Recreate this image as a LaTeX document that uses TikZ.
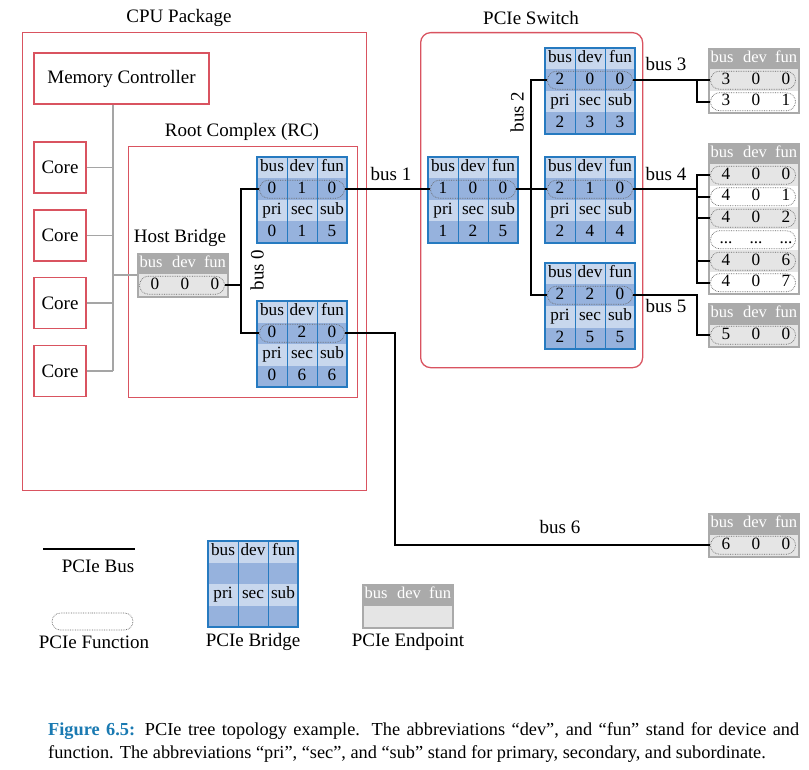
\documentclass[tikz,border=0pt]{standalone}
\usepackage{fontspec}
\setmainfont{Liberation Serif}
\usetikzlibrary{shapes.misc}
\definecolor{pred}{RGB}{217,83,96}
\definecolor{bblue}{RGB}{38,122,192}
\definecolor{bhead}{RGB}{200,215,237}
\definecolor{bdata}{RGB}{150,178,221}
\definecolor{egray}{RGB}{170,170,170}
\definecolor{erow}{RGB}{229,229,229}
\definecolor{lgray}{RGB}{165,165,165}
\definecolor{capblue}{RGB}{26,122,178}
\tikzset{
 redbox/.style={draw=pred, line width=1.3pt, inner sep=0pt},
 lbl/.style={font=\fontsize{19}{21}\selectfont, inner sep=0pt},
 btxt/.style={font=\fontsize{17.2}{20}\selectfont, inner sep=0pt, text height=11.5pt, text depth=3.7pt},
 etxt/.style={font=\fontsize{16.5}{20}\selectfont, inner sep=0pt, text height=11pt, text depth=3.5pt, text=white},
 fnc/.style={draw=black!60, densely dotted, rounded rectangle, inner sep=0pt, line width=0.7pt},
 bus/.style={draw=black, line width=1.8pt},
 gline/.style={draw=lgray, line width=1.6pt},
 epbord/.style={draw=egray, line width=1.6pt, inner sep=0pt, anchor=north west, minimum width=90pt},
}
\newcommand\pbridgebox[3]{%
 \fill[bhead] ({#2},{#3}) rectangle ++(90,21.5);
 \fill[bdata] ({#2},{#3+21.5}) rectangle ++(90,21.5);
 \fill[bhead] ({#2},{#3+43}) rectangle ++(90,21.5);
 \fill[bdata] ({#2},{#3+64.5}) rectangle ++(90,21.5);
 \draw[bblue, line width=1pt] ({#2+30},{#3}) -- ++(0,86) ({#2+60},{#3}) -- ++(0,86);
 \draw[bblue, line width=1.5pt] ({#2},{#3}) rectangle ++(90,86);
 \node[btxt] (#1h1) at ({#2+15},{#3+10.75}) {bus};
 \node[btxt] (#1h2) at ({#2+45},{#3+10.75}) {dev};
 \node[btxt] (#1h3) at ({#2+75.5},{#3+10.75}) {fun};
 \node[btxt] (#1h4) at ({#2+15},{#3+53.75}) {pri};
 \node[btxt] (#1h5) at ({#2+45},{#3+53.75}) {sec};
 \node[btxt] (#1h6) at ({#2+75},{#3+53.75}) {sub};
}
\newcommand\pbridge[9]{%
 \pbridgebox{#1}{#2}{#3}
 \node[fnc, minimum width=85pt, minimum height=18pt] (#1) at ({#2+45},{#3+32.25}) {};
 \node[btxt] (#1v1) at ({#2+15},{#3+32.25}) {#4};
 \node[btxt] (#1v2) at ({#2+45},{#3+32.25}) {#5};
 \node[btxt] (#1v3) at ({#2+75},{#3+32.25}) {#6};
 \node[btxt] (#1v4) at ({#2+15},{#3+75.25}) {#7};
 \node[btxt] (#1v5) at ({#2+45},{#3+75.25}) {#8};
 \node[btxt] (#1v6) at ({#2+75},{#3+75.25}) {#9};
}
\newcommand\ephead[3]{%
 \fill[egray] ({#2},{#3}) rectangle ++(90,21.5);
 \node[etxt] (#1a) at ({#2+14},{#3+10.75}) {bus};
 \node[etxt] (#1b) at ({#2+47},{#3+10.75}) {dev};
 \node[etxt] (#1c) at ({#2+78},{#3+10.75}) {fun};
}
\newcommand\eprow[7]{%
 \fill[#4] ({#2},{#3}) rectangle ++(90,21.5);
 \node[fnc, minimum width=85pt, minimum height=18pt] (#1) at ({#2+45},{#3+10.75}) {};
 \node[btxt] (#1a) at ({#2+18},{#3+10.75}) {#5};
 \node[btxt] (#1b) at ({#2+48},{#3+10.75}) {#6};
 \node[btxt] (#1c) at ({#2+78},{#3+10.75}) {#7};
}
\begin{document}
\begin{tikzpicture}[x=1pt,y=-1pt]
\fill[white] (0,0) rectangle (809,770);
\useasboundingbox (0,0) rectangle (809,770);

% containers
\node[redbox, minimum width=344pt, minimum height=458pt, anchor=north west] (cpu) at (22,32) {};
\node[lbl] (cput) at (179,18) {CPU Package};
\node[redbox, minimum width=229pt, minimum height=251pt, anchor=north west] (rc) at (128,146) {};
\node[lbl] (rct) at (242,132) {Root Complex (RC)};
\node[redbox, rounded corners=10pt, minimum width=222pt, minimum height=335pt, anchor=north west] (sw) at (420,32) {};
\node[lbl] (swt) at (531,18) {PCIe Switch};

% memory controller and cores
\node[redbox, lbl, minimum width=175pt, minimum height=51pt] (mc) at (121.5,78.5) {Memory Controller};
\node[redbox, lbl, minimum width=52pt, minimum height=51pt] (c1) at (60,167.5) {Core};
\node[redbox, lbl, minimum width=52pt, minimum height=51pt] (c2) at (60,235.5) {Core};
\node[redbox, lbl, minimum width=52pt, minimum height=51pt] (c3) at (60,303) {Core};
\node[redbox, lbl, minimum width=52pt, minimum height=51pt] (c4) at (60,371) {Core};

% host bridge
\node[lbl] (hbt) at (180,238) {Host Bridge};
\ephead{hbh}{137}{253}
\eprow{hbf}{137}{274.5}{erow}{0}{0}{0}
\node[epbord, minimum height=43pt] (hb) at (137,253) {};

% gray internal bus
\coordinate (gx) at (113,0);
\draw[gline] (gx |- mc.south) -- (gx |- c4.east);
\foreach \c in {c1,c2,c3,c4} \draw[gline] (\c.east) -- (\c.east -| gx);
\draw[gline] (gx |- hb.west) -- (hb.west);

% bridges
\pbridge{rb1}{257}{157}{0}{1}{0}{0}{1}{5}
\pbridge{rb2}{257}{301}{0}{2}{0}{0}{6}{6}
\pbridge{sw0}{428}{157}{1}{0}{0}{1}{2}{5}
\pbridge{sw1}{545}{48}{2}{0}{0}{2}{3}{3}
\pbridge{sw2}{545}{157}{2}{1}{0}{2}{4}{4}
\pbridge{sw3}{545}{263}{2}{2}{0}{2}{5}{5}

% endpoints
\ephead{ep3h}{708}{48}
\eprow{ep30}{708}{69.5}{erow}{3}{0}{0}
\eprow{ep31}{708}{91}{white}{3}{0}{1}
\node[epbord, minimum height=64.5pt] (ep3) at (708,48) {};

\ephead{ep4h}{708}{143}
\eprow{ep40}{708}{164.5}{erow}{4}{0}{0}
\eprow{ep41}{708}{186}{white}{4}{0}{1}
\eprow{ep42}{708}{207.5}{erow}{4}{0}{2}
\eprow{ep4d}{708}{229}{white}{...}{...}{...}
\eprow{ep46}{708}{250.5}{erow}{4}{0}{6}
\eprow{ep47}{708}{272}{white}{4}{0}{7}
\node[epbord, minimum height=150.5pt] (ep4) at (708,143) {};

\ephead{ep5h}{708}{303}
\eprow{ep5r}{708}{324.5}{erow}{5}{0}{0}
\node[epbord, minimum height=43pt] (ep5) at (708,303) {};

\ephead{ep6h}{708}{513}
\eprow{ep6r}{708}{534.5}{erow}{6}{0}{0}
\node[epbord, minimum height=43pt] (ep6) at (708,513) {};

% buses
\coordinate (b0x) at (241,0);
\coordinate (b2x) at (531,0);
\coordinate (b3x) at (697,0);
\coordinate (b6x) at (395,0);
\draw[bus] (hbf.east) -- (hbf.east -| b0x);
\draw[bus] (rb1.west) -- (rb1.west -| b0x) -- (rb2.west -| b0x) -- (rb2.west);
\draw[bus] (rb1.east) -- (sw0.west);
\draw[bus] (sw0.east) -- (sw2.west);
\draw[bus] (sw1.west) -- (sw1.west -| b2x) -- (sw3.west -| b2x) -- (sw3.west);
\draw[bus] (sw1.east) -- (ep30.west);
\draw[bus] (ep30.west -| b3x) |- (ep31.west);
\draw[bus] (sw2.east) -- (sw2.east -| b3x);
\draw[bus] (ep40.west) -- (ep40.west -| b3x) -- (ep47.west -| b3x) -- (ep47.west);
\foreach \r in {ep41,ep42,ep46} \draw[bus] (\r.west -| b3x) -- (\r.west);
\draw[bus] (sw3.east) -| (b3x |- ep5r.west) -- (ep5r.west);
\draw[bus] (rb2.east) -| (b6x |- ep6r.west) -- (ep6r.west);

% bus labels
\node[lbl, rotate=90] (l0) at (257,270) {bus 0};
\node[lbl] (l1) at (391,174) {bus 1};
\node[lbl, rotate=90] (l2) at (517,112) {bus 2};
\node[lbl] (l3) at (666,64) {bus 3};
\node[lbl] (l4) at (666,174) {bus 4};
\node[lbl] (l5) at (666,306) {bus 5};
\node[lbl] (l6) at (560,527) {bus 6};

% legend
\coordinate (lb1) at (43,549);
\coordinate (lb2) at (135,549);
\draw[bus] (lb1) -- (lb2);
\node[lbl] (lbt) at (98,566) {PCIe Bus};
\node[fnc, minimum width=81pt, minimum height=17pt] (lf) at (92.5,621.5) {};
\node[lbl] (lft) at (94,642) {PCIe Function};
\pbridgebox{lbr}{208}{541}
\node[lbl] (lbrt) at (253,642) {PCIe Bridge};
\ephead{leh}{362}{584}
\fill[erow] (362,605.5) rectangle ++(90,21.5);
\node[epbord, minimum height=43pt] (le) at (362,584) {};
\node[lbl] (let) at (408,642) {PCIe Endpoint};

% caption
\node[anchor=north west, text width=751pt, align=justify, inner sep=0pt,
      font=\fontsize{18.3}{23}\selectfont] (cap) at (48,722)
 {\textcolor{capblue}{\textbf{Figure 6.5:}} PCIe tree topology example. The abbreviations “dev”, and “fun” stand for device and\linebreak function. The abbreviations “pri”, “sec”, and “sub” stand for primary, secondary, and subordinate.};
\end{tikzpicture}
\end{document}
